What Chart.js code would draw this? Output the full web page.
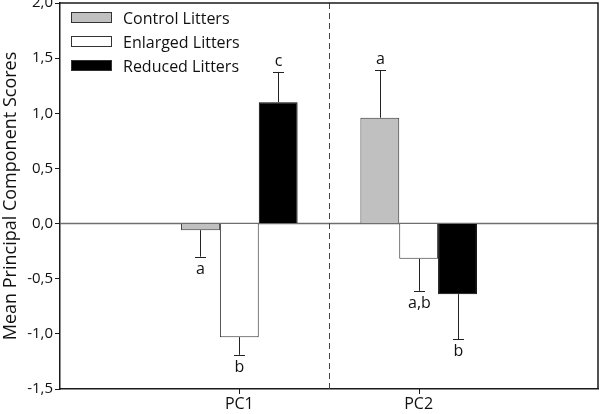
<!DOCTYPE html>
<html>
<head>
<meta charset="utf-8">
<script src="https://cdn.jsdelivr.net/npm/chart.js@4"></script>
<style>
  html, body { margin: 0; padding: 0; background: #fff; }
  #wrap { width: 600px; height: 414px; }
</style>
</head>
<body>
<div id="wrap"><canvas id="pcChart" width="600" height="414"></canvas></div>
<script>
// categories (empty slots at both ends give the wide margins of the original)
const categories = ["", "PC1", "PC2", ""];
const seriesNames = ["Control Litters", "Enlarged Litters", "Reduced Litters"];

// mean scores
const controlMeans  = [null, -0.06, 0.96, null];
const enlargedMeans = [null, -1.03, -0.32, null];
const reducedMeans  = [null, 1.10, -0.64, null];

// end of each error bar
const controlErr  = [null, -0.30, 1.39, null];
const enlargedErr = [null, -1.19, -0.61, null];
const reducedErr  = [null, 1.375, -1.05, null];

// significance letters
const controlLetters  = ["", "a", "a", ""];
const enlargedLetters = ["", "b", "a,b", ""];
const reducedLetters  = ["", "c", "b", ""];

const yTicks = [-1.5, -1.0, -0.5, 0, 0.5, 1.0, 1.5, 2.0];

const fontFam = "'Open Sans', Lato, sans-serif";
const ink = "#1a1a1a";

const errs = [controlErr, enlargedErr, reducedErr];
const letters = [controlLetters, enlargedLetters, reducedLetters];

// zero line, dashed divider, frame, error bars, letters and legend
const extras = {
    id: "extras",
    beforeDatasetsDraw(chart) {
        const c = chart.ctx, a = chart.chartArea;
        const ys = chart.scales.y, xs = chart.scales.x;
        c.save();
        // zero line
        c.strokeStyle = "#6e6e6e";
        c.lineWidth = 1.5;
        c.beginPath();
        c.moveTo(a.left, ys.getPixelForValue(0));
        c.lineTo(a.right, ys.getPixelForValue(0));
        c.stroke();
        // dashed divider between the two components
        const xm = Math.round(xs.getPixelForValue(1.5)) + 0.5;
        c.strokeStyle = "#444";
        c.lineWidth = 1;
        c.setLineDash([6, 4]);
        c.beginPath();
        c.moveTo(xm, a.top);
        c.lineTo(xm, a.bottom);
        c.stroke();
        c.restore();
    },
    afterDatasetsDraw(chart) {
        const c = chart.ctx, a = chart.chartArea;
        const ys = chart.scales.y, xs = chart.scales.x;
        c.save();
        // frame top + right
        c.strokeStyle = ink;
        c.lineWidth = 1.5;
        c.beginPath();
        c.moveTo(a.left, a.top);
        c.lineTo(a.right, a.top);
        c.lineTo(a.right, a.bottom);
        c.stroke();

        // small tick marks under PC1 / PC2
        c.lineWidth = 1;
        c.beginPath();
        [1, 2].forEach(k => {
            const tx = Math.round(xs.getPixelForValue(k)) + 0.5;
            c.moveTo(tx, a.bottom);
            c.lineTo(tx, a.bottom + 5);
        });
        c.stroke();

        c.font = "16px " + fontFam;
        c.fillStyle = "#111";
        c.textAlign = "center";
        chart.data.datasets.forEach((ds, i) => {
            const meta = chart.getDatasetMeta(i);
            meta.data.forEach((bar, j) => {
                if (ds.data[j] == null) return;
                const x = Math.round(bar.x) + 0.5;
                const yEnd = ys.getPixelForValue(errs[i][j]);
                c.strokeStyle = "#222";
                c.beginPath();
                c.moveTo(x, bar.y);
                c.lineTo(x, yEnd);
                c.moveTo(x - 5.5, Math.round(yEnd) + 0.5);
                c.lineTo(x + 5.5, Math.round(yEnd) + 0.5);
                c.stroke();
                const up = ds.data[j] >= 0;
                c.textBaseline = "alphabetic";
                c.fillText(letters[i][j], x, up ? yEnd - 6 : yEnd + 17);
            });
        });

        // legend in the upper left corner
        const lx = a.left + 11, ly = a.top + 9;
        c.textAlign = "left";
        c.textBaseline = "middle";
        c.font = "16px " + fontFam;
        chart.data.datasets.forEach((ds, i) => {
            const y = ly + i * 24;
            c.fillStyle = ds.backgroundColor;
            c.fillRect(lx, y, 41, 11);
            c.strokeStyle = "#333";
            c.strokeRect(lx + 0.5, y + 0.5, 40, 10);
            c.fillStyle = "#111";
            c.fillText(seriesNames[i], lx + 52, y + 7);
        });
        c.restore();
    }
};

const commaFmt = v => v.toFixed(1).replace(".", ",");

new Chart(document.getElementById("pcChart"), {
    type: "bar",
    data: {
        labels: categories,
        datasets: [
            { label: seriesNames[0], data: controlMeans, backgroundColor: "#c0c0c0", borderColor: "#333", borderWidth: 1 },
            { label: seriesNames[1], data: enlargedMeans, backgroundColor: "#ffffff", borderColor: "#333", borderWidth: 1 },
            { label: seriesNames[2], data: reducedMeans, backgroundColor: "#000000", borderColor: "#000", borderWidth: 1 }
        ]
    },
    options: {
        responsive: false,
        animation: false,
        devicePixelRatio: 1,
        layout: { padding: { top: 3, right: 2, left: 0, bottom: 0 } },
        datasets: { bar: { barPercentage: 1, categoryPercentage: 0.65, skipNull: false } },
        plugins: { legend: { display: false }, tooltip: { enabled: false } },
        scales: {
            x: {
                offset: false,
                grid: { offset: false, drawOnChartArea: false, tickLength: 5, color: "rgba(0,0,0,0)" },
                border: { color: ink, width: 1.5 },
                ticks: { color: "#111", font: { family: fontFam, size: 16 }, padding: 1, maxRotation: 0, autoSkip: false },
                afterFit(scale) { scale.height = 25; scale.paddingLeft = 0; scale.paddingRight = 0; }
            },
            y: {
                min: -1.5,
                max: 2.0,
                afterBuildTicks(scale) { scale.ticks = yTicks.map(v => ({ value: v })); },
                grid: { drawOnChartArea: false, tickLength: 5, color: ink },
                border: { color: ink, width: 1.5 },
                ticks: { color: "#111", font: { family: fontFam, size: 15 }, padding: 2, callback: v => commaFmt(v) },
                title: { display: true, text: "Mean Principal Component Scores", color: "#111", font: { family: fontFam, size: 18 }, padding: { top: 0, bottom: 2 } },
                afterFit(scale) { scale.width = 60; scale.paddingTop = 0; scale.paddingBottom = 0; }
            }
        }
    },
    plugins: [extras]
});
</script>
</body>
</html>
